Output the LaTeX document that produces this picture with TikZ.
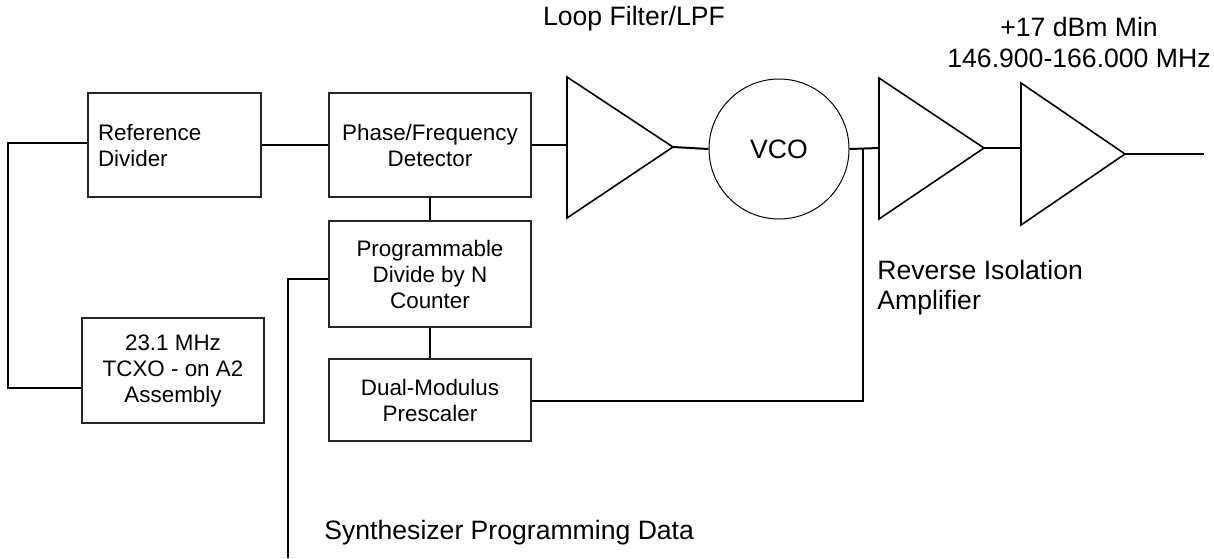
\documentclass[tikz,border=0pt]{standalone}
\usepackage{fontspec}
\setmainfont{Liberation Sans}
\begin{document}
\begin{tikzpicture}[x=0.5pt,y=-0.5pt,
  box/.style={draw=black!85,line width=0.6pt,inner sep=0pt,align=center,font=\fontsize{11.2}{13}\selectfont},
  wire/.style={line width=1pt,black},
  amp/.style={line width=0.8pt,black},
  lbl/.style={font=\fontsize{13.3}{15.5}\selectfont,inner sep=0pt}]
\useasboundingbox (0,0) rectangle (1214,558);
% boxes
\node[box,minimum width=86.5pt,minimum height=52pt,text width=76.5pt,align=left,inner xsep=5pt] (ref) at (174.5,145) {Reference\\Divider};
\node[box,minimum width=101pt,minimum height=52pt] (pfd) at (430,145) {Phase/Frequency\\Detector};
\node[box,minimum width=101pt,minimum height=53pt] (prog) at (430,274) {Programmable\\Divide by N\\Counter};
\node[box,minimum width=101pt,minimum height=41pt] (dual) at (430,400) {Dual-Modulus\\Prescaler};
\node[box,minimum width=91pt,minimum height=52.5pt] (tcxo) at (173,370.5) {23.1 MHz\\TCXO - on A2\\Assembly};
% VCO
\node[draw,circle,line width=0.5pt,minimum size=70pt,inner sep=0pt,font=\fontsize{13.3}{15.5}\selectfont] (vco) at (779,149) {VCO};
% amplifiers
\coordinate (a1in) at (567,145);
\coordinate (a1out) at (673,147);
\draw[amp] (567,77) -- (a1out) -- (567,218) -- cycle;
\coordinate (a2in) at (879,148);
\coordinate (a2out) at (984,148);
\draw[amp] (879,78) -- (a2out) -- (879,219) -- cycle;
\coordinate (a3in) at (1021,148);
\coordinate (a3out) at (1125,154);
\draw[amp] (1021,83) -- (a3out) -- (1021,225) -- cycle;
\coordinate (outend) at (1204,154);
\coordinate (tap) at (863,148);
\coordinate (synend) at (288,558);
% wires
\draw[wire] (tcxo.west |- 0,388) -- (8,388) -- (8,143) -- (ref.west |- 0,143);
\draw[wire] (ref.east) -- (pfd.west);
\draw[wire] (pfd.south) -- (prog.north);
\draw[wire] (prog.south) -- (dual.north);
\draw[wire] (pfd.east) -- (a1in);
\draw[wire] (a1out) -- (vco.west);
\draw[wire] (vco.east) -- (a2in);
\draw[wire] (a2out) -- (a3in);
\draw[wire] (a3out) -- (outend);
\draw[wire] (tap) -- (863,401) -- (dual.east |- 0,401);
\draw[wire] (prog.west |- 0,279) -- (288,279) -- (synend);
% labels
\node[lbl,anchor=base] (lpf) at (634,25) {Loop Filter/LPF};
\node[lbl,anchor=base] (pwr) at (1079,36) {+17 dBm Min};
\node[lbl,anchor=base] (freq) at (1079,67) {146.900-166.000 MHz};
\node[lbl,anchor=base west] (ria1) at (877,279) {Reverse Isolation};
\node[lbl,anchor=base west] (ria2) at (877,309) {Amplifier};
\node[lbl,anchor=base west] (syn) at (324,539) {Synthesizer Programming Data};
\end{tikzpicture}
\end{document}
